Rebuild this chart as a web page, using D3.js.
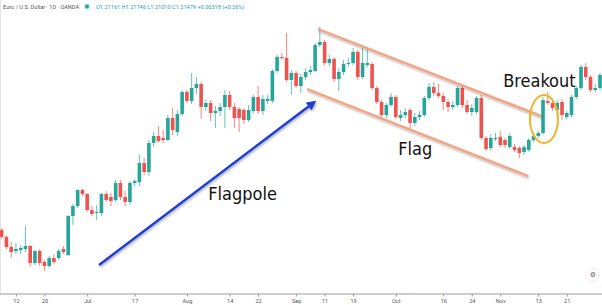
<!DOCTYPE html>
<html>
<head>
<meta charset="utf-8">
<script src="https://cdn.jsdelivr.net/npm/d3@7"></script>
<style>
  html, body { margin: 0; padding: 0; background: #fff; }
  svg { display: block; }
  .tick text { font-family: Roboto, "Open Sans", sans-serif; }
</style>
</head>
<body>
<div id="chart"></div>
<script>
// Daily EUR/USD candles (oldest first)
const open = [1.1150,1.1115,1.1065,1.1045,1.1050,1.1055,1.1070,1.0985,1.1045,1.0990,1.0970,1.1010,1.1010,1.1055,1.1025,1.1220,1.1270,1.1350,1.1330,1.1250,
  1.1235,1.1235,1.1330,1.1315,1.1300,1.1385,1.1315,1.1290,1.1385,1.1390,1.1485,1.1440,1.1585,1.1620,1.1610,1.1600,1.1710,1.1640,1.1730,1.1840,
  1.1795,1.1860,1.1880,1.1765,1.1785,1.1735,1.1745,1.1765,1.1825,1.1765,1.1755,1.1750,1.1700,1.1745,1.1815,1.1745,1.1795,1.1795,1.1945,1.2015,
  1.2010,1.1900,1.1935,1.1870,1.1915,1.1940,1.1945,1.2075,1.2090,1.1985,1.2005,1.1905,1.1940,1.1980,1.1985,1.2040,1.1915,1.1975,1.1980,1.1860,
  1.1790,1.1725,1.1775,1.1815,1.1710,1.1725,1.1750,1.1685,1.1715,1.1725,1.1810,1.1865,1.1835,1.1820,1.1790,1.1765,1.1775,1.1860,1.1775,1.1740,
  1.1740,1.1810,1.1610,1.1560,1.1605,1.1615,1.1600,1.1565,1.1565,1.1560,1.1540,1.1550,1.1600,1.1620,1.1635,1.1795,1.1785,1.1750,1.1790,1.1715,
  1.1725,1.1815,1.1860,1.1965,1.1915,1.1850,1.1860];
const high = [1.1160,1.1125,1.1090,1.1085,1.1075,1.1170,1.1075,1.1050,1.1055,1.1000,1.1020,1.1030,1.1055,1.1070,1.1225,1.1280,1.1355,1.1355,1.1335,1.1270,
  1.1275,1.1335,1.1345,1.1335,1.1400,1.1400,1.1345,1.1395,1.1405,1.1525,1.1510,1.1600,1.1640,1.1670,1.1650,1.1725,1.1760,1.1750,1.1850,1.1850,
  1.1935,1.1915,1.1890,1.1805,1.1800,1.1770,1.1785,1.1850,1.1845,1.1785,1.1765,1.1760,1.1775,1.1825,1.1870,1.1825,1.1825,1.1955,1.2025,1.2035,
  1.2135,1.1950,1.1945,1.1930,1.1960,1.1970,1.2085,1.2165,1.2100,1.2025,1.2015,1.1960,1.2000,1.2010,1.2060,1.2050,1.2075,1.2060,1.1990,1.1870,
  1.1800,1.1785,1.1835,1.1825,1.1750,1.1760,1.1760,1.1735,1.1745,1.1820,1.1885,1.1890,1.1880,1.1835,1.1805,1.1795,1.1870,1.1870,1.1800,1.1780,
  1.1820,1.1825,1.1620,1.1630,1.1635,1.1645,1.1610,1.1635,1.1580,1.1570,1.1575,1.1610,1.1635,1.1645,1.1815,1.1840,1.1800,1.1800,1.1805,1.1745,
  1.1825,1.1870,1.1975,1.1985,1.1925,1.1880,1.1935];
const low = [1.1105,1.1055,1.1010,1.1030,1.1030,1.1040,1.0965,1.0975,1.0970,1.0945,1.0960,1.0980,1.1000,1.1030,1.1020,1.1175,1.1260,1.1320,1.1240,1.1220,
  1.1200,1.1220,1.1290,1.1270,1.1290,1.1300,1.1270,1.1275,1.1370,1.1370,1.1425,1.1420,1.1565,1.1585,1.1585,1.1595,1.1625,1.1620,1.1720,1.1785,
  1.1780,1.1830,1.1705,1.1745,1.1695,1.1660,1.1720,1.1660,1.1750,1.1660,1.1640,1.1680,1.1690,1.1735,1.1730,1.1725,1.1780,1.1785,1.1935,1.2000,
  1.1890,1.1825,1.1860,1.1835,1.1900,1.1925,1.1940,1.2065,1.1975,1.1970,1.1890,1.1845,1.1925,1.1965,1.1975,1.1900,1.1905,1.1965,1.1850,1.1780,
  1.1715,1.1710,1.1765,1.1705,1.1695,1.1710,1.1650,1.1670,1.1700,1.1715,1.1800,1.1820,1.1810,1.1750,1.1740,1.1750,1.1765,1.1760,1.1730,1.1720,
  1.1730,1.1600,1.1545,1.1550,1.1595,1.1565,1.1560,1.1555,1.1540,1.1510,1.1525,1.1540,1.1590,1.1610,1.1625,1.1775,1.1745,1.1720,1.1700,1.1705,
  1.1715,1.1805,1.1850,1.1900,1.1840,1.1840,1.1850];
const close = [1.1115,1.1065,1.1040,1.1055,1.1060,1.1070,1.0985,1.1045,1.0985,1.0970,1.1010,1.0990,1.1045,1.1040,1.1220,1.1270,1.1350,1.1330,1.1250,1.1230,
  1.1240,1.1330,1.1300,1.1295,1.1385,1.1315,1.1290,1.1385,1.1395,1.1485,1.1440,1.1585,1.1620,1.1595,1.1600,1.1710,1.1650,1.1730,1.1840,1.1795,
  1.1860,1.1880,1.1765,1.1785,1.1735,1.1745,1.1765,1.1825,1.1765,1.1710,1.1710,1.1700,1.1750,1.1815,1.1745,1.1805,1.1805,1.1945,1.2015,1.2010,
  1.1900,1.1935,1.1870,1.1915,1.1940,1.1950,1.2075,1.2090,1.1985,1.2005,1.1905,1.1940,1.1980,1.1985,1.2040,1.1915,1.1985,1.1985,1.1860,1.1790,
  1.1725,1.1775,1.1815,1.1715,1.1725,1.1740,1.1685,1.1715,1.1725,1.1810,1.1865,1.1835,1.1820,1.1790,1.1765,1.1775,1.1860,1.1775,1.1740,1.1760,
  1.1810,1.1610,1.1555,1.1610,1.1610,1.1575,1.1575,1.1620,1.1550,1.1535,1.1565,1.1600,1.1620,1.1635,1.1800,1.1785,1.1760,1.1785,1.1725,1.1735,
  1.1815,1.1860,1.1965,1.1915,1.1850,1.1860,1.1925];

// x-axis labels, keyed by candle index
const tickIndex = [3, 9, 18, 28, 39, 48, 54, 62, 68, 74, 83, 93, 99, 105, 113, 119];
const tickLabel = ['12', '20', 'Jul', '17', 'Aug', '14', '22', 'Sep', '11', '19', 'Oct', '16', '24', 'Nov', '13', '21'];

// annotations in chart coordinates [candle index, price]
const channelTop = [[66.6, 1.2155], [113.6, 1.1720]];
const channelBottom = [[64.3, 1.1855], [110.85, 1.1420]];
const flagpole = [[20.5, 1.0975], [65.6, 1.1785]];
const breakoutSpot = [114.2, 1.1705];
const labels = [
  { text: 'Flagpole', at: [43.5, 1.1300] },
  { text: 'Flag', at: [83.5, 1.1525] },
  { text: 'Breakout', at: [105.6, 1.1865] }
];

const width = 602, height = 305;
const green = '#26a69a', red = '#ef5350';

const svg = d3.select('#chart').append('svg')
  .attr('width', width)
  .attr('height', height);

const defs = svg.append('defs');
defs.append('filter').attr('id', 'shadow')
  .attr('x', '-10%').attr('y', '-10%').attr('width', '120%').attr('height', '140%')
  .append('feDropShadow')
  .attr('dx', 0.8).attr('dy', 1.5).attr('stdDeviation', 0.9)
  .attr('flood-color', '#000').attr('flood-opacity', 0.35);
defs.append('marker').attr('id', 'head')
  .attr('viewBox', '0 0 10 10').attr('refX', 6).attr('refY', 5)
  .attr('markerWidth', 4).attr('markerHeight', 4).attr('orient', 'auto')
  .append('path').attr('d', 'M0,0 L10,5 L0,10 Z').attr('fill', '#1f3ed6');

const n = open.length;
const x = d3.scaleLinear().domain([0, n - 1]).range([1.7, 600]);
const y = d3.scaleLinear().domain([1.09, 1.22]).range([280, 20]);
const bodyW = 3.6;

// left border
svg.append('line')
  .attr('x1', 0.5).attr('x2', 0.5).attr('y1', 0).attr('y2', 294)
  .attr('stroke', '#e3e3ee').attr('stroke-width', 1);

// header
const header = svg.append('g').attr('transform', 'translate(3,8.5)')
  .style('font-family', 'Roboto, sans-serif').style('font-size', '5.6px');
header.append('text').attr('fill', '#555').text('Euro / U.S. Dollar · 1D · OANDA');
header.append('circle').attr('cx', 84).attr('cy', -2).attr('r', 3.2).attr('fill', '#cdebe8');
header.append('circle').attr('cx', 84).attr('cy', -2).attr('r', 2).attr('fill', green);
header.append('text').attr('x', 93).attr('fill', green)
  .text('O1.21161 H1.21746 L1.21010 C1.21479 +0.00318 (+0.26%)');

// x axis
const xAxis = d3.axisBottom(x)
  .tickValues(tickIndex)
  .tickFormat((d, i) => tickLabel[i])
  .tickSizeInner(2.5)
  .tickSizeOuter(0)
  .tickPadding(2.5);
const gx = svg.append('g')
  .attr('transform', 'translate(0,294)')
  .call(xAxis);
gx.select('.domain').attr('d', 'M0,0H' + width).attr('stroke', '#bdbdbd').attr('stroke-width', 1.6);
gx.selectAll('.tick line').attr('stroke', '#999');
gx.selectAll('.tick text').attr('fill', '#555').style('font-size', '5.6px');

// candles
const candles = d3.range(n).map(i => ({ i, o: open[i], h: high[i], l: low[i], c: close[i] }));
const g = svg.append('g');
const cg = g.selectAll('.candle').data(candles).enter().append('g').attr('class', 'candle');
cg.append('line')
  .attr('x1', d => x(d.i)).attr('x2', d => x(d.i))
  .attr('y1', d => y(d.h)).attr('y2', d => y(d.l))
  .attr('stroke', d => d.c >= d.o ? green : red)
  .attr('stroke-opacity', 0.7)
  .attr('stroke-width', 1);
cg.append('rect')
  .attr('x', d => x(d.i) - bodyW / 2)
  .attr('width', bodyW)
  .attr('y', d => y(Math.max(d.o, d.c)))
  .attr('height', d => Math.max(1, Math.abs(y(d.o) - y(d.c))))
  .attr('fill', d => d.c >= d.o ? green : red);

// flag channel
const line = d3.line().x(d => x(d[0])).y(d => y(d[1]));
[channelTop, channelBottom].forEach(pts => {
  svg.append('path')
    .attr('d', line(pts))
    .attr('fill', 'none')
    .attr('stroke', '#f5a27e')
    .attr('stroke-width', 2.4)
    .attr('filter', 'url(#shadow)');
});

// flagpole arrow
svg.append('path')
  .attr('d', line(flagpole))
  .attr('fill', 'none')
  .attr('stroke', '#1f3ed6')
  .attr('stroke-width', 2.4)
  .attr('marker-end', 'url(#head)')
  .attr('filter', 'url(#shadow)');

// breakout ring
svg.append('ellipse')
  .attr('cx', x(breakoutSpot[0])).attr('cy', y(breakoutSpot[1]))
  .attr('rx', 14).attr('ry', 24)
  .attr('fill', 'none')
  .attr('stroke', '#e6b82a')
  .attr('stroke-width', 2);

// labels
svg.selectAll('.note').data(labels).enter().append('text')
  .attr('class', 'note')
  .attr('x', d => x(d.at[0]))
  .attr('y', d => y(d.at[1]))
  .attr('fill', '#111')
  .style('font-family', '"Liberation Sans Narrow", "Arial Narrow", "DejaVu Sans Condensed", sans-serif')
  .style('font-size', '18px')
  .text(d => d.text);

// settings button
const btn = svg.append('g').attr('transform', 'translate(593,275)');
btn.append('circle').attr('r', 6.5).attr('fill', '#fff').attr('stroke', '#ececec');
btn.append('text').attr('text-anchor', 'middle').attr('dy', '0.35em')
  .attr('fill', '#666').style('font-size', '7px').style('font-family', 'DejaVu Sans')
  .text('⚙');
</script>
</body>
</html>
